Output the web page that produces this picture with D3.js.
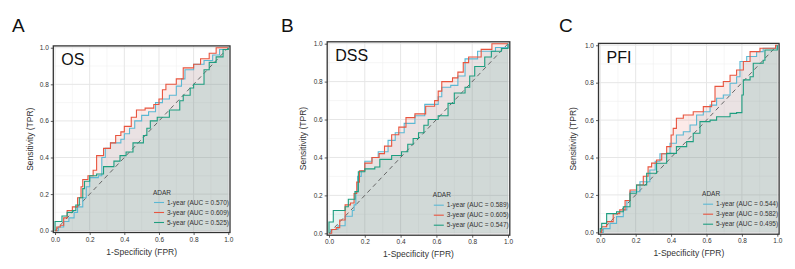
<!DOCTYPE html>
<html>
<head>
<meta charset="utf-8">
<script src="https://cdn.jsdelivr.net/npm/d3@7"></script>
<style>
  body { margin: 0; background: #fff; }
  svg { font-family: "Liberation Sans", Arial, sans-serif; }
</style>
</head>
<body>
<div id="chart"></div>
<script>
// ROC points: [FPR, TPR]
const os1yr = [[0,0],[0.02,0.02],[0.05,0.05],[0.08,0.07],[0.11,0.10],[0.13,0.13],[0.16,0.18],[0.18,0.24],[0.20,0.29],[0.25,0.30],[0.27,0.40],[0.29,0.45],[0.32,0.48],[0.38,0.50],[0.40,0.53],[0.43,0.56],[0.46,0.60],[0.50,0.63],[0.54,0.65],[0.58,0.70],[0.62,0.72],[0.66,0.74],[0.70,0.79],[0.73,0.83],[0.75,0.88],[0.80,0.91],[0.86,0.93],[0.91,0.96],[0.95,0.99],[1,1]];
const os3yr = [[0,0],[0.01,0.02],[0.03,0.03],[0.05,0.07],[0.07,0.11],[0.10,0.13],[0.13,0.18],[0.15,0.24],[0.16,0.28],[0.19,0.30],[0.22,0.33],[0.24,0.41],[0.28,0.45],[0.32,0.48],[0.35,0.52],[0.38,0.54],[0.40,0.57],[0.44,0.62],[0.47,0.66],[0.52,0.67],[0.57,0.69],[0.60,0.72],[0.62,0.77],[0.64,0.80],[0.70,0.83],[0.74,0.89],[0.80,0.91],[0.84,0.94],[0.89,0.97],[0.93,1.0],[1,1]];
const os5yr = [[0,0],[0,0.05],[0.04,0.08],[0.07,0.10],[0.10,0.11],[0.12,0.14],[0.14,0.18],[0.16,0.23],[0.17,0.27],[0.20,0.30],[0.24,0.31],[0.28,0.35],[0.34,0.38],[0.375,0.41],[0.41,0.43],[0.45,0.48],[0.51,0.52],[0.53,0.56],[0.55,0.60],[0.59,0.62],[0.66,0.66],[0.72,0.71],[0.74,0.74],[0.78,0.78],[0.80,0.80],[0.86,0.88],[0.89,0.92],[0.93,0.95],[0.97,0.99],[1,1]];

const dss1yr = [[0,0],[0.01,0.02],[0.05,0.04],[0.09,0.09],[0.13,0.12],[0.14,0.15],[0.15,0.22],[0.16,0.30],[0.18,0.33],[0.20,0.38],[0.24,0.40],[0.275,0.43],[0.33,0.49],[0.37,0.53],[0.42,0.58],[0.48,0.62],[0.535,0.68],[0.61,0.72],[0.63,0.77],[0.68,0.78],[0.72,0.83],[0.76,0.92],[0.83,0.96],[0.93,0.98],[1,1]];
const dss3yr = [[0,0],[0.015,0.02],[0.04,0.03],[0.06,0.07],[0.09,0.15],[0.12,0.16],[0.14,0.21],[0.155,0.27],[0.17,0.33],[0.20,0.37],[0.24,0.40],[0.28,0.42],[0.31,0.46],[0.35,0.52],[0.39,0.56],[0.43,0.61],[0.48,0.63],[0.54,0.67],[0.59,0.70],[0.61,0.75],[0.63,0.80],[0.69,0.82],[0.72,0.85],[0.75,0.90],[0.78,0.93],[0.85,0.97],[0.91,1.0],[1,1]];
const dss5yr = [[0,0],[0,0.06],[0.024,0.12],[0.07,0.12],[0.09,0.14],[0.108,0.18],[0.145,0.22],[0.164,0.325],[0.20,0.34],[0.256,0.35],[0.284,0.39],[0.35,0.41],[0.405,0.43],[0.44,0.47],[0.47,0.50],[0.50,0.53],[0.53,0.57],[0.554,0.60],[0.61,0.62],[0.665,0.685],[0.70,0.74],[0.76,0.77],[0.786,0.83],[0.814,0.88],[0.87,0.93],[0.907,0.96],[0.963,0.975],[1,1]];

const pfi1yr = [[0,0],[0.017,0.02],[0.055,0.048],[0.092,0.084],[0.13,0.12],[0.15,0.17],[0.168,0.217],[0.224,0.27],[0.28,0.333],[0.31,0.38],[0.337,0.42],[0.394,0.476],[0.43,0.52],[0.469,0.538],[0.507,0.574],[0.544,0.627],[0.582,0.645],[0.62,0.68],[0.657,0.717],[0.695,0.734],[0.733,0.797],[0.77,0.832],[0.789,0.913],[0.827,0.94],[0.883,0.966],[0.92,0.984],[1,1]];
const pfi3yr = [[0,0],[0.008,0.03],[0.036,0.057],[0.073,0.10],[0.11,0.12],[0.14,0.17],[0.168,0.226],[0.205,0.253],[0.243,0.30],[0.27,0.35],[0.29,0.37],[0.318,0.387],[0.347,0.42],[0.375,0.458],[0.40,0.52],[0.412,0.556],[0.43,0.61],[0.469,0.627],[0.525,0.645],[0.582,0.672],[0.629,0.70],[0.648,0.78],[0.695,0.806],[0.733,0.84],[0.77,0.868],[0.808,0.913],[0.846,0.966],[0.902,0.984],[0.99,1],[1,1]];
const pfi5yr = [[0,0],[0,0.02],[0.008,0.048],[0.036,0.10],[0.092,0.11],[0.13,0.137],[0.168,0.209],[0.205,0.253],[0.262,0.316],[0.318,0.369],[0.375,0.422],[0.43,0.458],[0.488,0.485],[0.525,0.53],[0.563,0.592],[0.62,0.60],[0.657,0.618],[0.733,0.636],[0.77,0.64],[0.80,0.734],[0.808,0.815],[0.846,0.832],[0.864,0.904],[0.92,0.92],[0.93,0.975],[1,1]];

const seriesNames = ["1-year", "3-year", "5-year"];
const osAuc = [0.570, 0.609, 0.525];
const dssAuc = [0.589, 0.605, 0.547];
const pfiAuc = [0.544, 0.582, 0.495];
const tickValues = [0, 0.2, 0.4, 0.6, 0.8, 1.0];
const minorTicks = [0.1, 0.3, 0.5, 0.7, 0.9];
const colors = ["#5bb8d3", "#e8553f", "#1e9e80"];

// layout of each panel (pixel box of the plotting area)
const panels = [
  { letter: "A", title: "OS",  curves: [os1yr, os3yr, os5yr],    auc: osAuc,  box: { l: 53.3, r: 230, t: 45.9, b: 232.5 }, letterX: 12, yTitleX: 30 },
  { letter: "B", title: "DSS", curves: [dss1yr, dss3yr, dss5yr], auc: dssAuc, box: { l: 327.2, r: 509.8, t: 41.8, b: 235.2 }, letterX: 281, yTitleX: 303 },
  { letter: "C", title: "PFI", curves: [pfi1yr, pfi3yr, pfi5yr], auc: pfiAuc, box: { l: 598.5, r: 779.1, t: 43.4, b: 234.2 }, letterX: 559, yTitleX: 573 }
];

const width = 795, height = 269;
const svg = d3.select("#chart").append("svg")
  .attr("width", width)
  .attr("height", height);

panels.forEach(p => {
  const x = d3.scaleLinear().domain([-0.01, 1.01]).range([p.box.l, p.box.r]);
  const y = d3.scaleLinear().domain([-0.01, 1.01]).range([p.box.b, p.box.t]);
  const g = svg.append("g");

  // panel letter
  svg.append("text")
    .attr("x", p.letterX).attr("y", 32)
    .attr("font-size", 19)
    .attr("fill", "#111")
    .text(p.letter);

  // background + grid
  g.append("rect")
    .attr("x", p.box.l).attr("y", p.box.t)
    .attr("width", p.box.r - p.box.l).attr("height", p.box.b - p.box.t)
    .attr("fill", "#fff");

  g.selectAll(".gminor-x").data(minorTicks).enter().append("line")
    .attr("x1", d => x(d)).attr("x2", d => x(d))
    .attr("y1", p.box.t).attr("y2", p.box.b)
    .attr("stroke", "#f0f0f0").attr("stroke-width", 0.6);
  g.selectAll(".gminor-y").data(minorTicks).enter().append("line")
    .attr("y1", d => y(d)).attr("y2", d => y(d))
    .attr("x1", p.box.l).attr("x2", p.box.r)
    .attr("stroke", "#f0f0f0").attr("stroke-width", 0.6);
  g.selectAll(".gmajor-x").data(tickValues).enter().append("line")
    .attr("x1", d => x(d)).attr("x2", d => x(d))
    .attr("y1", p.box.t).attr("y2", p.box.b)
    .attr("stroke", "#e6e6e6").attr("stroke-width", 1);
  g.selectAll(".gmajor-y").data(tickValues).enter().append("line")
    .attr("y1", d => y(d)).attr("y2", d => y(d))
    .attr("x1", p.box.l).attr("x2", p.box.r)
    .attr("stroke", "#e6e6e6").attr("stroke-width", 1);

  // shaded areas under each curve
  const area = d3.area()
    .x(d => x(d[0]))
    .y0(y(0))
    .y1(d => y(d[1]))
    .curve(d3.curveStepAfter);
  p.curves.forEach((c, i) => {
    g.append("path")
      .datum(c)
      .attr("d", area)
      .attr("fill", colors[i])
      .attr("fill-opacity", 0.12);
  });

  // reference diagonal
  g.append("line")
    .attr("x1", x(0)).attr("y1", y(0))
    .attr("x2", x(1)).attr("y2", y(1))
    .attr("stroke", "#666")
    .attr("stroke-width", 1)
    .attr("stroke-dasharray", "4.5,3.5");

  const line = d3.line()
    .x(d => x(d[0]))
    .y(d => y(d[1]))
    .curve(d3.curveStepAfter);
  p.curves.forEach((c, i) => {
    g.append("path")
      .datum(c)
      .attr("d", line)
      .attr("fill", "none")
      .attr("stroke", colors[i])
      .attr("stroke-width", 1.1);
  });

  // frame
  g.append("rect")
    .attr("x", p.box.l).attr("y", p.box.t)
    .attr("width", p.box.r - p.box.l).attr("height", p.box.b - p.box.t)
    .attr("fill", "none")
    .attr("stroke", "#333")
    .attr("stroke-width", 1.3);

  // axes
  const xAxis = g.append("g")
    .attr("transform", `translate(0,${p.box.b})`)
    .call(d3.axisBottom(x).tickValues(tickValues).tickFormat(d3.format(".1f")).tickSize(2.5).tickPadding(2));
  const yAxis = g.append("g")
    .attr("transform", `translate(${p.box.l},0)`)
    .call(d3.axisLeft(y).tickValues(tickValues).tickFormat(d3.format(".1f")).tickSize(2.5).tickPadding(2));
  [xAxis, yAxis].forEach(a => {
    a.select(".domain").remove();
    a.selectAll(".tick line").attr("stroke", "#333").attr("stroke-width", 0.8);
    a.selectAll(".tick text")
      .attr("font-size", 6.5)
      .attr("fill", "#333")
      .attr("font-family", "'Liberation Sans', Arial, sans-serif");
  });

  // axis titles
  g.append("text")
    .attr("x", (p.box.l + p.box.r) / 2)
    .attr("y", p.box.b + 22)
    .attr("text-anchor", "middle")
    .attr("font-size", 8.5)
    .attr("fill", "#333")
    .text("1-Specificity (FPR)");
  g.append("text")
    .attr("transform", `translate(${p.yTitleX},${(p.box.t + p.box.b) / 2}) rotate(-90)`)
    .attr("text-anchor", "middle")
    .attr("dy", "0.35em")
    .attr("font-size", 8.5)
    .attr("fill", "#333")
    .text("Sensitivity (TPR)");

  // panel title
  g.append("text")
    .attr("x", p.box.l + 8)
    .attr("y", p.box.t + 19.5)
    .attr("font-size", 16)
    .attr("fill", "#111")
    .text(p.title);

  // legend
  const legX = p.box.r - 77;
  const lg = g.append("g");
  lg.append("text")
    .attr("x", legX).attr("y", p.box.b - 38)
    .attr("font-size", 6.5)
    .attr("fill", "#333")
    .text("ADAR");
  seriesNames.forEach((s, i) => {
    const ly = p.box.b - 30 + i * 10;
    lg.append("line")
      .attr("x1", legX + 1).attr("x2", legX + 11)
      .attr("y1", ly).attr("y2", ly)
      .attr("stroke", colors[i]).attr("stroke-width", 1.1);
    lg.append("text")
      .attr("x", legX + 14).attr("y", ly)
      .attr("dy", "0.35em")
      .attr("font-size", 6.5)
      .attr("fill", "#333")
      .text(`${s} (AUC = ${p.auc[i].toFixed(3)})`);
  });
});
</script>
</body>
</html>
